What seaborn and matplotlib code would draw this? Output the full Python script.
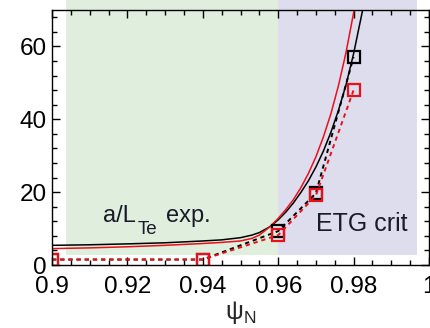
import matplotlib
matplotlib.use("Agg")
import matplotlib.pyplot as plt
from matplotlib.patches import Rectangle
from matplotlib.ticker import MultipleLocator
import pandas as pd
import seaborn as sns

# ---- data ----
psi_black_exp = [0.900, 0.910, 0.920, 0.930, 0.940, 0.945, 0.950, 0.953, 0.955, 0.9578,
                 0.960, 0.962, 0.964, 0.966, 0.968, 0.970, 0.972, 0.974, 0.976, 0.978,
                 0.980, 0.982, 0.9826]
val_black_exp = [5.4, 5.55, 5.8, 6.1, 6.6, 6.9, 7.5, 8.2, 8.9, 10.5,
                 12.4, 14.5, 17.0, 19.9, 23.1, 26.9, 31.3, 36.5, 42.5, 49.5,
                 58.0, 68.0, 71.0]
psi_red_exp = [0.900, 0.910, 0.920, 0.930, 0.940, 0.945, 0.950, 0.953, 0.955, 0.9578,
               0.960, 0.962, 0.964, 0.966, 0.968, 0.970, 0.972, 0.974, 0.976, 0.978,
               0.980, 0.9805]
val_red_exp = [4.5, 4.7, 5.0, 5.4, 5.9, 6.2, 6.6, 7.3, 8.2, 10.5,
               12.8, 15.2, 17.9, 21.2, 25.1, 29.7, 35.2, 41.6, 49.3, 58.4,
               69.2, 72.0]

psi_crit = [0.90, 0.94, 0.96, 0.97, 0.98]
val_black_crit = [1.5, 1.5, 9.3, 19.7, 57.1]
val_red_crit = [1.5, 1.5, 8.2, 19.1, 48.0]

x_ticks = [0.9, 0.92, 0.94, 0.96, 0.98, 1.0]
x_tick_labels = ["0.9", "0.92", "0.94", "0.96", "0.98", "1"]
y_ticks = [0, 20, 40, 60]
y_tick_labels = ["0", "20", "40", "60"]

green_region = (0.9037, 0.96)
purple_region = (0.96, 0.9968)

sns.set_style("ticks")
plt.rcParams["font.family"] = ["Liberation Sans", "DejaVu Sans"]
plt.rcParams["mathtext.fontset"] = "custom"
plt.rcParams["mathtext.rm"] = "Liberation Sans"
plt.rcParams["mathtext.it"] = "Liberation Sans:italic"

fig = plt.figure(figsize=(4.31, 3.28), dpi=100)
ax = fig.add_axes([52 / 431, 63 / 328, 377 / 431, 255 / 328])

# shaded regions (extend above the frame like the reference)
ax.add_patch(Rectangle((green_region[0], 2.8), green_region[1] - green_region[0], 75,
                       facecolor="#dfeedd", edgecolor="none", zorder=0, clip_on=False))
ax.add_patch(Rectangle((purple_region[0], 2.8), purple_region[1] - purple_region[0], 75,
                       facecolor="#dedded", edgecolor="none", zorder=0, clip_on=False))

df_bexp = pd.DataFrame({"psi": psi_black_exp, "val": val_black_exp})
df_rexp = pd.DataFrame({"psi": psi_red_exp, "val": val_red_exp})
df_bcrit = pd.DataFrame({"psi": psi_crit, "val": val_black_crit})
df_rcrit = pd.DataFrame({"psi": psi_crit, "val": val_red_crit})

sns.lineplot(data=df_bexp, x="psi", y="val", color="black", linewidth=1.1, ax=ax, zorder=3)
sns.lineplot(data=df_rexp, x="psi", y="val", color="#e8101a", linewidth=1.1, ax=ax, zorder=3)
sns.lineplot(data=df_bcrit, x="psi", y="val", color="black", linewidth=1.4,
             linestyle=(0, (2.2, 2.0)), marker="s", markersize=9,
             markerfacecolor="none", markeredgecolor="black", markeredgewidth=1.6,
             ax=ax, zorder=4)
sns.lineplot(data=df_rcrit, x="psi", y="val", color="#e8101a", linewidth=1.4,
             linestyle=(0, (2.2, 2.0)), marker="s", markersize=9,
             markerfacecolor="none", markeredgecolor="#e8101a", markeredgewidth=1.6,
             ax=ax, zorder=5)

ax.set_xlim(0.9, 1.0)
ax.set_ylim(0, 70)
ax.set_xticks(x_ticks)
ax.set_xticklabels(x_tick_labels)
ax.set_yticks(y_ticks)
ax.set_yticklabels(y_tick_labels)
ax.xaxis.set_minor_locator(MultipleLocator(0.005))
ax.yaxis.set_minor_locator(MultipleLocator(4))
ax.tick_params(which="both", direction="in", top=True, right=True, colors="black", width=1.0)
ax.tick_params(which="major", length=6, labelsize=17.5)
ax.tick_params(which="minor", length=3.5)
ax.tick_params(axis="x", which="major", pad=8)
ax.tick_params(axis="y", which="major", pad=4)
for s in ax.spines.values():
    s.set_visible(True)
    s.set_color("black")
    s.set_linewidth(1.0)
    s.set_zorder(6)

ax.set_xlabel("ψ$_\\mathrm{N}$", fontsize=18, labelpad=1)
ax.set_ylabel("")

txt_color = "#1a1a2a"
ax.text(0.91355, 11.7, "a/L", fontsize=17, color=txt_color, zorder=7)
ax.text(0.92273, 8.4, "Te", fontsize=13.5, color=txt_color, zorder=7)
ax.text(0.93016, 11.7, "exp.", fontsize=17, color=txt_color, zorder=7)
ax.text(0.970, 9.3, "ETG crit", fontsize=18, color=txt_color, zorder=7)

fig.savefig("out.png", dpi=100)
